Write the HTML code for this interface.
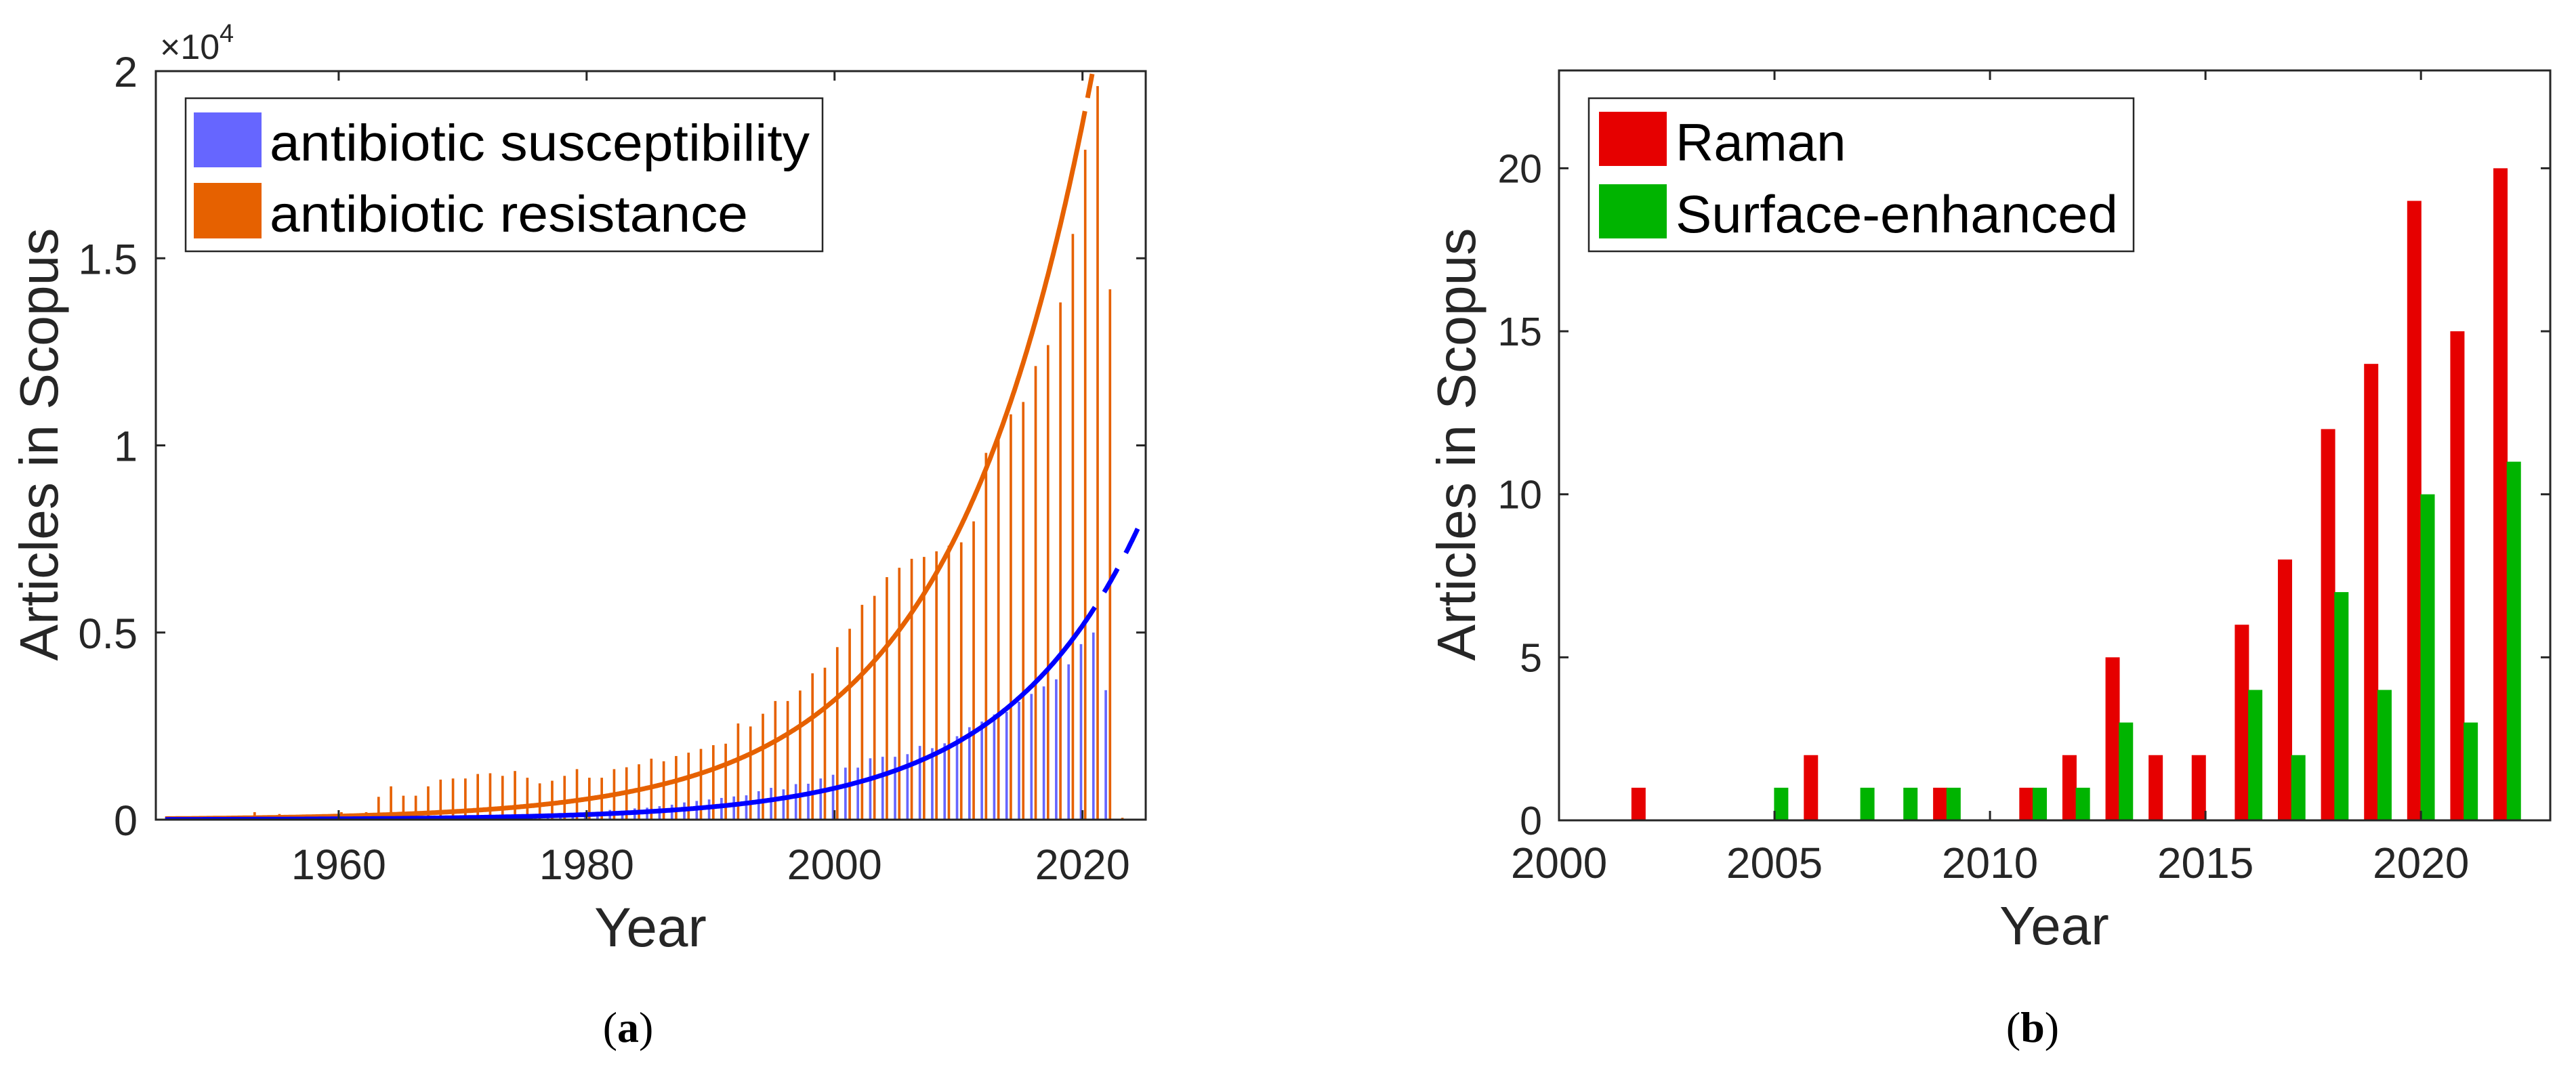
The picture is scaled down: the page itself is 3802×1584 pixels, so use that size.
<!DOCTYPE html>
<html><head><meta charset="utf-8"><style>
html,body{margin:0;padding:0;background:#fff;}
svg{display:block;font-family:"Liberation Sans",Arial,sans-serif;}
</style></head><body>
<svg id="fig" xmlns="http://www.w3.org/2000/svg" width="3802" height="1584" viewBox="0 0 3802 1584">
<rect x="0" y="0" width="3802" height="1584" fill="#fff"/>
<defs>
<clipPath id="clipA"><rect x="230" y="105" width="1461" height="1105"/></clipPath>
<clipPath id="clipB"><rect x="2301" y="104" width="1463" height="1107"/></clipPath>
</defs>
<g id="panelA"></g>
<g id="panelB"></g>
</svg>
<script>
// ---------- Panel (a) data ----------
const yearsA = [1946,1947,1948,1949,1950,1951,1952,1953,1954,1955,1956,1957,1958,1959,1960,1961,1962,1963,1964,1965,1966,1967,1968,1969,1970,1971,1972,1973,1974,1975,1976,1977,1978,1979,1980,1981,1982,1983,1984,1985,1986,1987,1988,1989,1990,1991,1992,1993,1994,1995,1996,1997,1998,1999,2000,2001,2002,2003,2004,2005,2006,2007,2008,2009,2010,2011,2012,2013,2014,2015,2016,2017,2018,2019,2020,2021,2022,2023];
const resistance = [30,40,50,60,60,70,80,200,90,150,100,110,120,130,200,150,200,610,890,640,640,890,1070,1100,1100,1220,1240,1170,1300,1120,970,1040,1170,1350,1120,1120,1350,1400,1480,1630,1560,1700,1790,1890,1990,2030,2570,2490,2830,3170,3170,3450,3910,4060,4610,5100,5740,5980,6480,6730,6970,7020,7170,7320,7410,7970,9800,10200,10830,11160,12120,12680,13820,15650,17900,19600,14170,50];
const susceptibility = [5,5,6,8,8,10,10,12,12,15,15,18,20,20,40,25,30,35,40,40,45,50,55,60,60,70,75,80,90,90,95,100,110,120,130,160,260,240,300,320,360,400,460,500,540,580,620,650,760,850,810,950,960,1100,1200,1390,1390,1640,1680,1680,1750,1970,1910,2040,2230,2470,2620,2810,2880,3150,3360,3560,3750,4150,4690,5000,3460,0];
const yTicksA = [0,5000,10000,15000,20000];
const yTickLabelsA = ["0","0.5","1","1.5","2"];
const xTicksA = [1960,1980,2000,2020];
// exponential fit parameters (value = A*exp(B*(year-2000)))
const fitResA = 3200, fitResB = 0.088, fitResEnd = 2020.2;
const fitSusA = 840, fitSusB = 0.091, fitSusEnd = 2021.0;

// ---------- Panel (b) data ----------
const yearsB = [2002,2005,2006,2007,2008,2009,2011,2012,2013,2014,2015,2016,2017,2018,2019,2020,2021,2022];
const raman =   [1,0,2,0,0,1,1,2,5,2,2,6,8,12,14,19,15,20];
const surface = [0,1,0,1,1,1,1,1,3,0,0,4,2,7,4,10,3,11];
const yTicksB = [0,5,10,15,20];
const xTicksB = [2000,2005,2010,2015,2020];

const NS = "http://www.w3.org/2000/svg";
function mk(parent, tag, attrs, text){
  const e = document.createElementNS(NS, tag);
  for (const k in attrs) e.setAttribute(k, attrs[k]);
  if (text !== undefined) e.textContent = text;
  parent.appendChild(e);
  return e;
}

// ===== Panel A =====
(function(){
  const g = document.getElementById('panelA');
  const L=230,R=1691,T=105,B=1210;
  const x0=1945.25,x1=2025.1,y0=0,y1=20000;
  const sx = v => L + (v-x0)/(x1-x0)*(R-L);
  const sy = v => B - (v-y0)/(y1-y0)*(B-T);
  const plot = mk(g,'g',{'clip-path':'url(#clipA)'});
  
  
  const bw = 0.2*(R-L)/(x1-x0);
  yearsA.forEach((yr,i)=>{
    const v = susceptibility[i];
    const r = mk(plot,'rect',{x:sx(yr-0.12)-bw/2,y:sy(v),width:bw,height:Math.max(0,sy(0)-sy(v)),fill:'#6666ff'});
    
    
  });
  yearsA.forEach((yr,i)=>{
    const v = resistance[i];
    const r = mk(plot,'rect',{x:sx(yr+0.22)-bw/2,y:sy(v),width:bw,height:Math.max(0,sy(0)-sy(v)),fill:'#e66100'});
    
    
  });
  function curve(A,Bc,t0,t1){
    let d='';
    for(let t=t0;t<=t1+1e-9;t+=0.1){
      const v=A*Math.exp(Bc*(t-2000));
      d+=(d?'L':'M')+sx(t).toFixed(1)+','+sy(v).toFixed(1);
    }
    return d;
  }
  const c1 = mk(plot,'path',{d:curve(fitResA,fitResB,1946,fitResEnd),fill:'none',stroke:'#e66100','stroke-width':7});
  
  
  const c1d = mk(plot,'path',{d:curve(fitResA,fitResB,fitResEnd,2025),fill:'none',stroke:'#e66100','stroke-width':7,'stroke-dasharray':'36 26','stroke-dashoffset':'-20'});
  
  
  const c2 = mk(plot,'path',{d:curve(fitSusA,fitSusB,1946,fitSusEnd),fill:'none',stroke:'#0000ff','stroke-width':7});
  
  
  const c2d = mk(plot,'path',{d:curve(fitSusA,fitSusB,fitSusEnd,2024.6),fill:'none',stroke:'#0000ff','stroke-width':7,'stroke-dasharray':'40 26','stroke-dashoffset':'-26'});
  
  
  const box = mk(g,'rect',{x:L,y:T,width:R-L,height:B-T,fill:'none',stroke:'#262626','stroke-width':3});
  
  
  xTicksA.forEach(v=>{
    const t1 = mk(g,'line',{x1:sx(v),x2:sx(v),y1:B,y2:B-14,stroke:'#262626','stroke-width':3});
    
    
    const t2 = mk(g,'line',{x1:sx(v),x2:sx(v),y1:T,y2:T+14,stroke:'#262626','stroke-width':3});
    
    
    const lb = mk(g,'text',{x:sx(v),y:1298,'font-size':63,'text-anchor':'middle',fill:'#262626'},String(v));
    
    
  });
  yTicksA.forEach((v,i)=>{
    const t1 = mk(g,'line',{x1:L,x2:L+14,y1:sy(v),y2:sy(v),stroke:'#262626','stroke-width':3});
    
    
    const t2 = mk(g,'line',{x1:R,x2:R-14,y1:sy(v),y2:sy(v),stroke:'#262626','stroke-width':3});
    
    
    const lb = mk(g,'text',{x:203,y:sy(v)+23,'font-size':63,'text-anchor':'end',fill:'#262626'},yTickLabelsA[i]);
    
    
  });
  const ex = mk(g,'text',{x:236,y:87,'font-size':52,fill:'#262626'},'×10');
  
  
  const ex4 = mk(g,'text',{x:324,y:62,'font-size':38,fill:'#262626'},'4');
  
  
  const xt = mk(g,'text',{x:960,y:1397,'font-size':82,'text-anchor':'middle',fill:'#262626'},'Year');
  
  
  const yt = mk(g,'text',{x:0,y:0,'font-size':80,'text-anchor':'middle',fill:'#262626',transform:'translate(85,656) rotate(-90)',textLength:639,lengthAdjust:'spacingAndGlyphs'},'Articles in Scopus');
  
  
  const lg = mk(g,'g',{});
  
  
  mk(lg,'rect',{x:274,y:145,width:940,height:226,fill:'#fff',stroke:'#262626','stroke-width':2.5});
  const p1 = mk(lg,'rect',{x:286,y:166,width:100,height:81,fill:'#6666ff'});
  
  
  const l1 = mk(lg,'text',{x:398,y:237,'font-size':76,fill:'#000',textLength:797,lengthAdjust:'spacingAndGlyphs'},'antibiotic susceptibility');
  
  
  const p2 = mk(lg,'rect',{x:286,y:270,width:100,height:82,fill:'#e66100'});
  
  
  const l2 = mk(lg,'text',{x:398,y:342,'font-size':76,fill:'#000',textLength:706,lengthAdjust:'spacingAndGlyphs'},'antibiotic resistance');
  
  
  const cap = mk(g,'text',{x:927,y:1538,'font-size':64,'text-anchor':'middle',fill:'#000','font-family':'Liberation Serif, serif'});
  
  
  cap.innerHTML = '(<tspan font-weight="bold">a</tspan>)';
})();

// ===== Panel B =====
(function(){
  const g = document.getElementById('panelB');
  const L=2301,R=3764,T=104,B=1211;
  const x0=2000,x1=2023,y0=0,y1=23;
  const sx = v => L + (v-x0)/(x1-x0)*(R-L);
  const sy = v => B - (v-y0)/(y1-y0)*(B-T);
  const plot = mk(g,'g',{'clip-path':'url(#clipB)'});
  
  
  const bw = 0.33*(R-L)/(x1-x0);
  yearsB.forEach((yr,i)=>{
    if (raman[i]>0){
      const r = mk(plot,'rect',{x:sx(yr-0.155)-bw/2,y:sy(raman[i]),width:bw,height:sy(0)-sy(raman[i]),fill:'#e60000'});
      
      
    }
    if (surface[i]>0){
      const r2 = mk(plot,'rect',{x:sx(yr+0.155)-bw/2,y:sy(surface[i]),width:bw,height:sy(0)-sy(surface[i]),fill:'#00b400'});
      
      
    }
  });
  const box = mk(g,'rect',{x:L,y:T,width:R-L,height:B-T,fill:'none',stroke:'#262626','stroke-width':3});
  
  
  xTicksB.forEach(v=>{
    const t1 = mk(g,'line',{x1:sx(v),x2:sx(v),y1:B,y2:B-14,stroke:'#262626','stroke-width':3});
    
    
    const t2 = mk(g,'line',{x1:sx(v),x2:sx(v),y1:T,y2:T+14,stroke:'#262626','stroke-width':3});
    
    
    const lb = mk(g,'text',{x:sx(v),y:1296,'font-size':64,'text-anchor':'middle',fill:'#262626'},String(v));
    
    
  });
  yTicksB.forEach(v=>{
    const t1 = mk(g,'line',{x1:L,x2:L+14,y1:sy(v),y2:sy(v),stroke:'#262626','stroke-width':3});
    
    
    const t2 = mk(g,'line',{x1:R,x2:R-14,y1:sy(v),y2:sy(v),stroke:'#262626','stroke-width':3});
    
    
    const lb = mk(g,'text',{x:2276,y:sy(v)+21,'font-size':59,'text-anchor':'end',fill:'#262626'},String(v));
    
    
  });
  const xt = mk(g,'text',{x:3032,y:1394,'font-size':80,'text-anchor':'middle',fill:'#262626'},'Year');
  
  
  const yt = mk(g,'text',{x:0,y:0,'font-size':80,'text-anchor':'middle',fill:'#262626',transform:'translate(2177,656) rotate(-90)',textLength:639,lengthAdjust:'spacingAndGlyphs'},'Articles in Scopus');
  
  
  const lg = mk(g,'g',{});
  
  
  mk(lg,'rect',{x:2345,y:145,width:804,height:226,fill:'#fff',stroke:'#262626','stroke-width':2.5});
  const p1 = mk(lg,'rect',{x:2360,y:165,width:100,height:80,fill:'#e60000'});
  
  
  const l1 = mk(lg,'text',{x:2473,y:237,'font-size':78,fill:'#000'},'Raman');
  
  
  const p2 = mk(lg,'rect',{x:2360,y:272,width:100,height:80,fill:'#00b400'});
  
  
  const l2 = mk(lg,'text',{x:2473,y:343,'font-size':78,fill:'#000',textLength:653,lengthAdjust:'spacingAndGlyphs'},'Surface-enhanced');
  
  
  const cap = mk(g,'text',{x:3000,y:1538,'font-size':64,'text-anchor':'middle',fill:'#000','font-family':'Liberation Serif, serif'});
  
  
  cap.innerHTML = '(<tspan font-weight="bold">b</tspan>)';
})();
</script>
</body></html>
